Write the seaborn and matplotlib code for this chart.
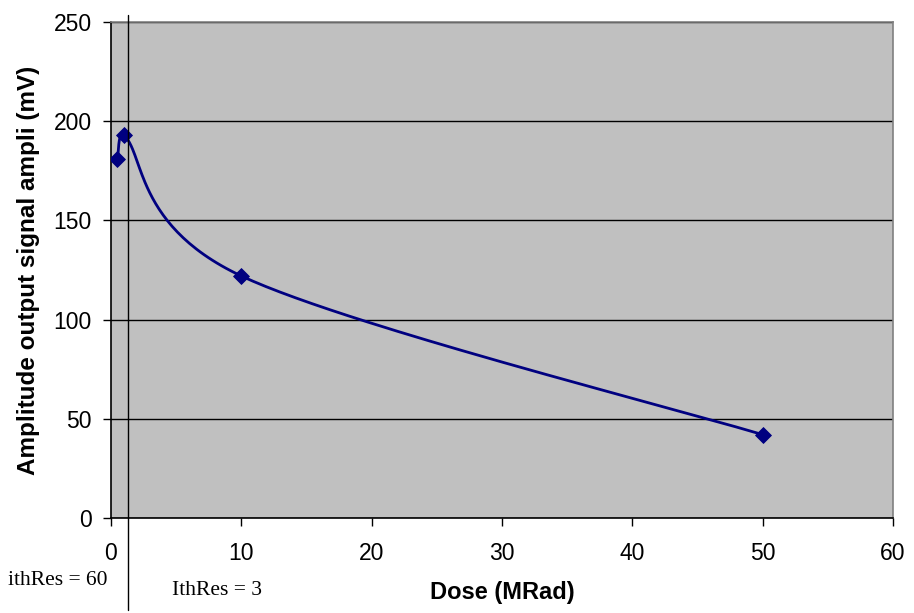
import numpy as np
import pandas as pd
import matplotlib
matplotlib.use('Agg')
import matplotlib.pyplot as plt
import seaborn as sns
from matplotlib.lines import Line2D

# values
dose = [0.5, 1, 10, 50]
amplitude = [181, 193, 122, 42]
y_ticks = [0, 50, 100, 150, 200, 250]
x_ticks = [0, 10, 20, 30, 40, 50, 60]


def smooth_line(xs, ys, sx=13.03, sy=1.984, n=60):
    # Excel-like smoothed line: Bezier through the points, in pixel space;
    # on very short segments the control arms are shortened so they don't loop
    P = np.column_stack([np.array(xs) * sx, np.array(ys) * sy])
    out = [P[0]]
    for i in range(len(P) - 1):
        p0 = P[i - 1] if i > 0 else P[i]
        p1, p2 = P[i], P[i + 1]
        p3 = P[i + 2] if i + 2 < len(P) else P[i + 1]
        chord = np.linalg.norm(p2 - p1)
        a = (p2 - p0) / 6
        b = (p3 - p1) / 6
        if chord < 60:
            if np.linalg.norm(a) > chord / 3:
                a = a * (chord / 3) / np.linalg.norm(a)
            if np.linalg.norm(b) > chord / 3:
                b = b * (chord / 3) / np.linalg.norm(b)
        c1 = p1 + a
        c2 = p2 - b
        t = np.linspace(0, 1, n)[1:, None]
        seg = ((1 - t) ** 3) * p1 + 3 * ((1 - t) ** 2) * t * c1 + 3 * (1 - t) * t ** 2 * c2 + t ** 3 * p2
        out.extend(seg)
    out = np.array(out)
    return out[:, 0] / sx, out[:, 1] / sy


sx_, sy_ = smooth_line(dose, amplitude)
curve = pd.DataFrame({'Dose': sx_, 'Amp': sy_})
points = pd.DataFrame({'Dose': dose, 'Amp': amplitude})

sns.set_style('white')
plt.rcParams['font.family'] = ['Liberation Sans', 'DejaVu Sans']
plt.rcParams['text.color'] = 'black'
plt.rcParams['axes.labelcolor'] = 'black'
plt.rcParams['xtick.color'] = 'black'
plt.rcParams['ytick.color'] = 'black'

fig = plt.figure(figsize=(9.14, 6.13), dpi=100)
ax = fig.add_axes([0.1214, 0.155, 0.8556, 0.809])
ax.set_facecolor('#c0c0c0')

sns.lineplot(data=curve, x='Dose', y='Amp', sort=False, color='#000080', linewidth=2, ax=ax, zorder=3)
sns.scatterplot(data=points, x='Dose', y='Amp', marker='D', s=65, color='#000080',
                edgecolor='#000080', ax=ax, zorder=4)

ax.set_xlim(0, 60)
ax.set_ylim(0, 250)
ax.set_xticks(x_ticks)
ax.set_yticks(y_ticks)
ax.yaxis.grid(True, color='black', linewidth=1)
ax.set_axisbelow(True)
ax.tick_params(axis='both', direction='out', length=6, width=1, color='black',
               labelcolor='black', labelsize=16.5, left=True, bottom=True)
ax.tick_params(axis='x', pad=11)
ax.tick_params(axis='y', pad=8)
for s in ['left', 'bottom']:
    ax.spines[s].set_color('black')
    ax.spines[s].set_linewidth(1.2)
for s in ['top', 'right']:
    ax.spines[s].set_color('#808080')
    ax.spines[s].set_linewidth(1.2)

ax.set_xlabel('Dose (MRad)', fontsize=17, fontweight='bold', color='black')
ax.set_ylabel('Amplitude output signal ampli (mV)', fontsize=17.5, fontweight='bold', color='black')
ax.xaxis.set_label_coords(0.5, -0.15)
ax.yaxis.set_label_coords(-0.105, 0.5)
ax.xaxis.label.set_va('center')
ax.yaxis.label.set_va('center')

# vertical marker line crossing the whole plot
fig.add_artist(Line2D([128 / 914, 128 / 914], [1 - 15 / 613, 1 - 610 / 613],
                      color='black', linewidth=1))

fig.text(8 / 914, 1 - 585 / 613, 'ithRes = 60', family='Liberation Serif', fontsize=15.5,
         va='baseline', color='black')
fig.text(172 / 914, 1 - 595 / 613, 'IthRes = 3', family='Liberation Serif', fontsize=15.5,
         va='baseline', color='black')

fig.savefig('out.png', dpi=100)
